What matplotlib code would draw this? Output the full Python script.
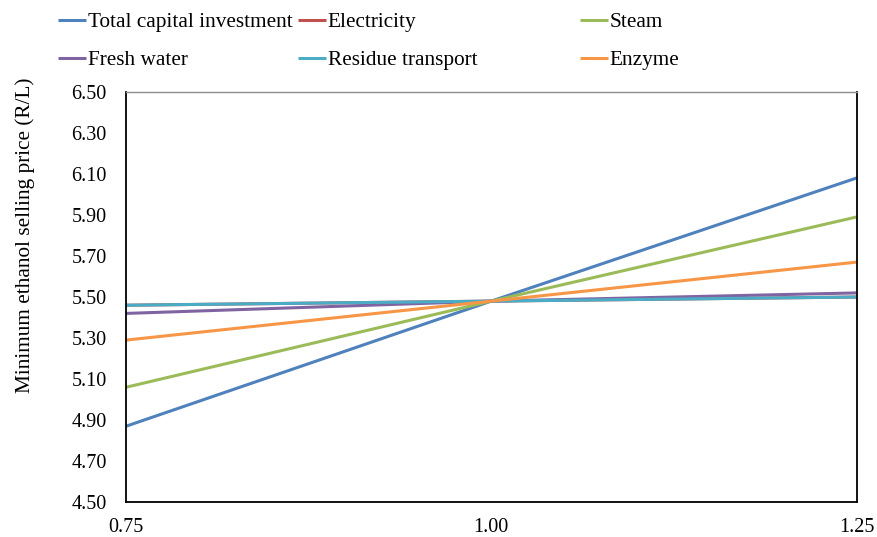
import matplotlib.pyplot as plt

plt.rcParams["font.family"] = ["Liberation Serif", "DejaVu Serif"]

x_labels = ["0.75", "1.00", "1.25"]
series_names = [
    "Total capital investment",
    "Electricity",
    "Steam",
    "Fresh water",
    "Residue transport",
    "Enzyme",
]
total_capital = [4.87, 5.48, 6.08]
electricity = [5.46, 5.48, 5.50]
steam = [5.06, 5.48, 5.89]
fresh_water = [5.42, 5.48, 5.52]
residue_transport = [5.46, 5.48, 5.50]
enzyme = [5.29, 5.48, 5.67]
y_ticks = [4.50, 4.70, 4.90, 5.10, 5.30, 5.50, 5.70, 5.90, 6.10, 6.30, 6.50]

colors = ["#4F81BD", "#C0504D", "#9BBB59", "#8064A2", "#4BACC6", "#F79646"]
values = [total_capital, electricity, steam, fresh_water, residue_transport, enzyme]

fig = plt.figure(figsize=(8.77, 5.37), dpi=100)
ax = fig.add_axes([0.1433, 0.0646, 0.8336, 0.7646])

pos = list(range(len(x_labels)))
lines = []
for name, vals, col in zip(series_names, values, colors):
    (ln,) = ax.plot(pos, vals, color=col, lw=2.2, label=name, solid_capstyle="butt")
    lines.append(ln)

ax.set_xlim(0, 2)
ax.set_ylim(4.5, 6.5)
ax.set_xticks(pos)
ax.set_xticklabels(x_labels)
ax.set_yticks(y_ticks)
ax.set_yticklabels([f"{v:.2f}" for v in y_ticks])
ax.tick_params(axis="both", length=0, labelsize=14.5, colors="black")
ax.tick_params(axis="y", pad=13.7)
ax.tick_params(axis="x", pad=11)

for side in ["left", "bottom", "right"]:
    ax.spines[side].set_color("black")
    ax.spines[side].set_linewidth(1.3)
ax.spines["top"].set_color("#8c8c8c")
ax.spines["top"].set_linewidth(1.0)

ax.set_ylabel("Minimum ethanol selling price (R/L)", fontsize=15.3)
ax.yaxis.set_label_coords(-0.124, 0.651)

# legend laid out like the original: 3 fixed columns, 2 rows
col_x = [0.0661, 0.3398, 0.6613]
row_y = [1 - 22 / 537, 1 - 60 / 537]
for i, ln in enumerate(lines):
    fig.legend(
        handles=[ln],
        loc="center left",
        bbox_to_anchor=(col_x[i % 3], row_y[i // 3]),
        frameon=False,
        borderpad=0,
        borderaxespad=0,
        handlelength=1.3,
        handletextpad=0.1,
        fontsize=15.3,
    )

fig.savefig("out.png", dpi=100)
